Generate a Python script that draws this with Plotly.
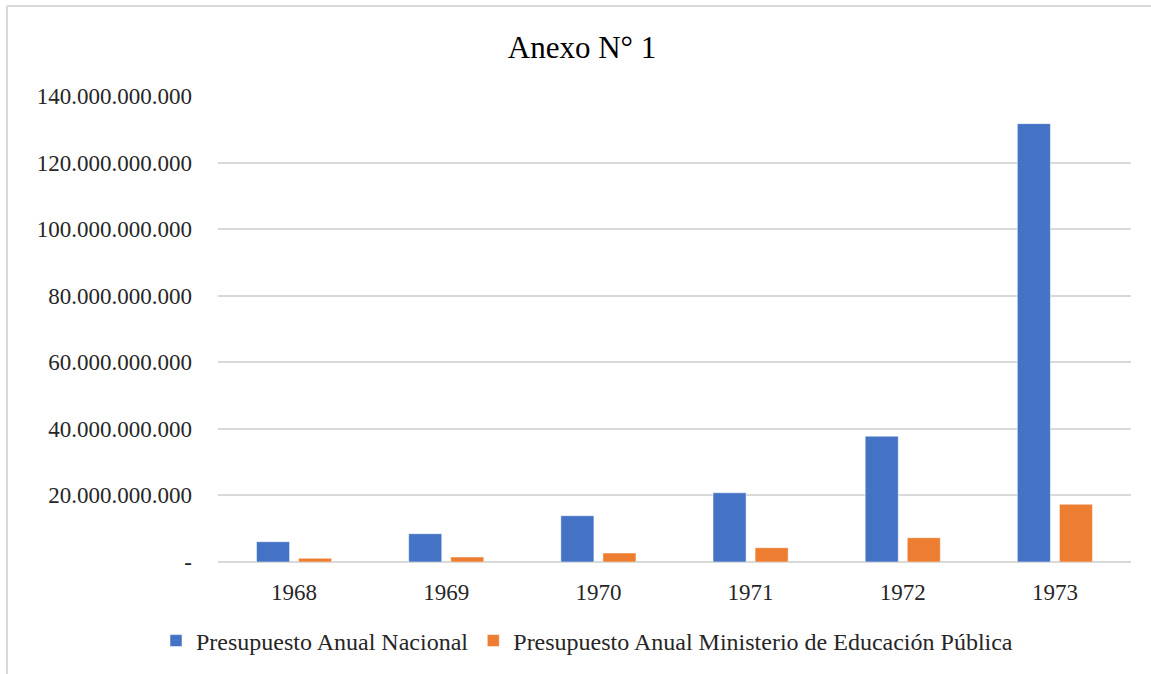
import plotly.graph_objects as go

# Annual budgets (pesos), 1968-1973
years = ["1968", "1969", "1970", "1971", "1972", "1973"]
presupuesto_nacional = [6.1e9, 8.5e9, 13.9e9, 20.8e9, 37.8e9, 131.7e9]
presupuesto_educacion = [1.1e9, 1.5e9, 2.7e9, 4.3e9, 7.3e9, 17.35e9]

y_ticks = [0, 20e9, 40e9, 60e9, 80e9, 100e9, 120e9, 140e9]


def fmt_miles(v):
    if v == 0:
        return "-"
    return f"{int(v):,}".replace(",", ".")


y_ticktext = [fmt_miles(v) for v in y_ticks]

W, H = 1151, 674
M_L, M_R, M_T, M_B = 218, 20, 96, 112
PW, PH = W - M_L - M_R, H - M_T - M_B


def px_x(x):
    return (x - M_L) / PW


def px_y(y):
    return (H - M_B - y) / PH


FONT = "Liberation Serif"

fig = go.Figure()
fig.add_trace(go.Bar(
    x=years, y=presupuesto_nacional, name="Presupuesto Anual Nacional",
    marker=dict(color="#4472C4", line=dict(color="rgba(255,255,255,0.5)", width=1)),
))
fig.add_trace(go.Bar(
    x=years, y=presupuesto_educacion,
    name="Presupuesto Anual Ministerio de Educación Pública",
    marker=dict(color="#ED7D31", line=dict(color="rgba(255,255,255,0.5)", width=1)),
))

fig.update_layout(
    width=W, height=H,
    margin=dict(l=M_L, r=M_R, t=M_T, b=M_B, autoexpand=False),
    paper_bgcolor="white", plot_bgcolor="white",
    barmode="group", bargap=0.447, bargroupgap=0.214,
    font=dict(family=FONT, size=23, color="#262626"),
    title=dict(text="Anexo N° 1", x=582 / W, xref="container", xanchor="center",
               y=1 - 47 / H, yref="container", yanchor="middle",
               font=dict(family=FONT, size=31, color="#000000")),
    legend=dict(orientation="h", x=px_x(587), xanchor="center",
                y=px_y(641), yanchor="middle",
                font=dict(family=FONT, size=24, color="#262626"),
                itemwidth=30, tracegroupgap=0),
    showlegend=True,
    shapes=[
        dict(type="line", xref="paper", yref="paper",
             x0=px_x(7), x1=px_x(7), y0=px_y(6), y1=px_y(680),
             line=dict(color="#D9D9D9", width=2)),
        dict(type="line", xref="paper", yref="paper",
             x0=px_x(7), x1=px_x(1160), y0=px_y(6), y1=px_y(6),
             line=dict(color="#D9D9D9", width=2)),
    ],
)

fig.update_xaxes(showgrid=False, showline=False, ticks="", ticklabelstandoff=14,
                 tickfont=dict(family=FONT, size=23, color="#262626"))
fig.update_yaxes(range=[0, 140e9], tickvals=y_ticks, ticktext=y_ticktext,
                 showgrid=True, gridcolor="#D9D9D9", gridwidth=1.5,
                 zeroline=True, zerolinecolor="#D9D9D9", zerolinewidth=1.5,
                 ticks="", ticklabelstandoff=25,
                 tickfont=dict(family=FONT, size=23, color="#262626"))

fig.write_html("out.html")
